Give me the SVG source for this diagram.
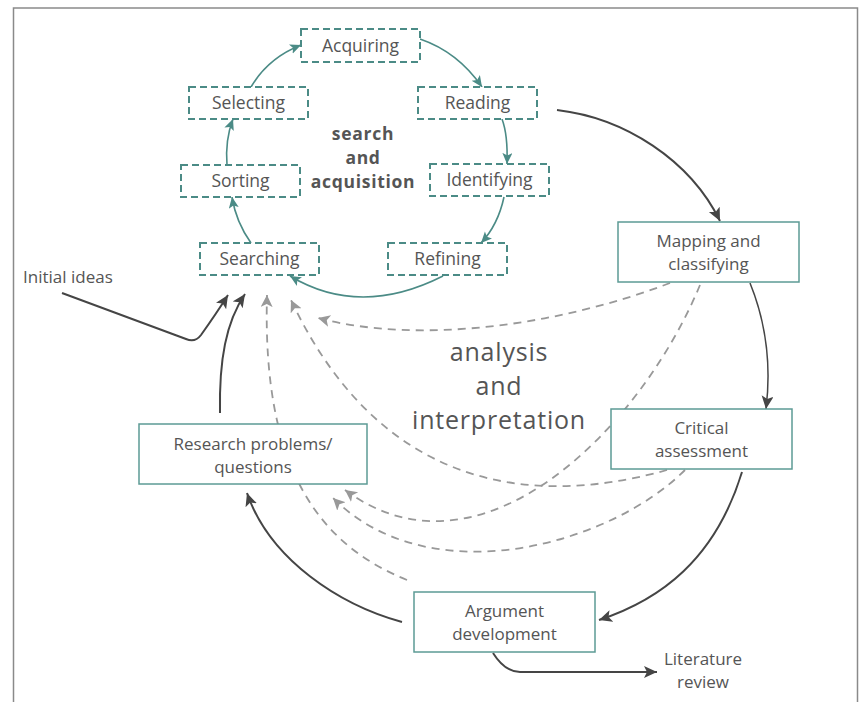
<svg xmlns="http://www.w3.org/2000/svg" width="859" height="702" viewBox="0 0 859 702">
<style>
  text { font-family: "Open Sans", "Noto Sans", "DejaVu Sans", sans-serif; fill: #555; }
  .dbox { fill: #fff; stroke: #4b8b86; stroke-width: 2; stroke-dasharray: 7 4; }
  .sbox { fill: #fff; stroke: #5c9b95; stroke-width: 1.5; }
  .dl { font-size: 17.5px; text-anchor: middle; }
  .sl { font-size: 17px; text-anchor: middle; }
  .big { font-size: 25px; text-anchor: middle; letter-spacing: 0.8px; }
  .bold { font-size: 17.5px; font-weight: bold; text-anchor: middle; letter-spacing: 0.7px; }
  .teal { fill: none; stroke: #4b8b86; stroke-width: 1.6; marker-end: url(#mt); }
  .dark { fill: none; stroke: #454545; stroke-width: 2; marker-end: url(#md); }
  .thin { fill: none; stroke: #454545; stroke-width: 1.5; marker-end: url(#md); }
  .dash { fill: none; stroke: #999; stroke-width: 1.8; stroke-dasharray: 8 6; marker-end: url(#mg); }
</style>
<defs>
  <marker id="mt" markerUnits="userSpaceOnUse" markerWidth="14" markerHeight="12" refX="11" refY="5" orient="auto">
    <path d="M0,0 L11,5 L0,10 L2.5,5 z" fill="#4b8b86"/>
  </marker>
  <marker id="md" markerUnits="userSpaceOnUse" markerWidth="16" markerHeight="14" refX="13" refY="6" orient="auto">
    <path d="M0,0 L13,6 L0,12 L3,6 z" fill="#454545"/>
  </marker>
  <marker id="mg" markerUnits="userSpaceOnUse" markerWidth="16" markerHeight="14" refX="12" refY="6" orient="auto">
    <path d="M0,0 L12,6 L0,12 L3,6 z" fill="#999"/>
  </marker>
</defs>
<rect x="13.5" y="8" width="844" height="720" fill="#fff" stroke="#8a8a8a" stroke-width="1.5"/>

<g id="connectors">
  <path class="teal" d="M251,87 Q268,58 301,45"/>
  <path class="teal" d="M420,39 Q458,52 482,87"/>
  <path class="teal" d="M502,119 Q508,135 507,164"/>
  <path class="teal" d="M504,197 Q498,225 481,243"/>
  <path class="teal" d="M443,276 Q360,318 290,276"/>
  <path class="teal" d="M251,243 Q236,222 232,197"/>
  <path class="teal" d="M227,165 Q225,140 233,119"/>

  <path class="dark" d="M557,110 C625,118 690,160 720,221"/>
  <path class="thin" d="M750,283 C765,320 772,360 766,409"/>
  <path class="dark" d="M742,472 C715,560 660,600 599,620"/>
  <path class="dark" d="M402,622 C340,605 270,560 247,493"/>
  <path class="dark" d="M220,413 C219,360 226,322 245,294"/>
  <path class="dark" d="M62,293 L186,339 Q195,343 201,335 Q216,314 228,295"/>
  <path class="dark" d="M493,653 Q505,672 520,672 L657,672"/>

  <path class="dash" d="M407,580 C320,545 262,470 267,295"/>
  <path class="dash" d="M667,470 C560,500 390,510 291,300"/>
  <path class="dash" d="M670,283 C560,325 420,345 318,318"/>
  <path class="dash" d="M700,285 C640,430 480,590 345,490"/>
  <path class="dash" d="M685,470 C610,545 430,595 333,498"/>
</g>

<g id="acquiring"><rect class="dbox" x="301" y="29" width="119" height="33"/><text class="dl" x="360.5" y="52">Acquiring</text></g>
<g id="reading"><rect class="dbox" x="418" y="87" width="119" height="32"/><text class="dl" x="477.5" y="109">Reading</text></g>
<g id="identifying"><rect class="dbox" x="430" y="164" width="119" height="32"/><text class="dl" x="489.5" y="186">Identifying</text></g>
<g id="refining"><rect class="dbox" x="388" y="243" width="119" height="32"/><text class="dl" x="447.5" y="265">Refining</text></g>
<g id="searching"><rect class="dbox" x="200" y="243" width="119" height="32"/><text class="dl" x="259.5" y="265">Searching</text></g>
<g id="sorting"><rect class="dbox" x="181" y="165" width="119" height="32"/><text class="dl" x="240.5" y="187">Sorting</text></g>
<g id="selecting"><rect class="dbox" x="189" y="87" width="119" height="32"/><text class="dl" x="248.5" y="109">Selecting</text></g>

<g id="search-label">
  <text class="bold" x="363" y="140">search</text>
  <text class="bold" x="363" y="164">and</text>
  <text class="bold" x="363" y="188">acquisition</text>
</g>

<g id="mapping"><rect class="sbox" x="618" y="222" width="181" height="60"/><text class="sl" x="708.5" y="247">Mapping and</text><text class="sl" x="708.5" y="270">classifying</text></g>
<g id="critical"><rect class="sbox" x="611" y="409" width="181" height="60"/><text class="sl" x="701.5" y="434">Critical</text><text class="sl" x="701.5" y="457">assessment</text></g>
<g id="argument"><rect class="sbox" x="414" y="592" width="181" height="60"/><text class="sl" x="504.5" y="617">Argument</text><text class="sl" x="504.5" y="640">development</text></g>
<g id="research"><rect class="sbox" x="139" y="424" width="228" height="60"/><text class="sl" x="253" y="450">Research problems/</text><text class="sl" x="253" y="473">questions</text></g>

<g id="initial-ideas"><text x="23" y="283" font-size="17">Initial ideas</text></g>
<g id="literature-review"><text x="703" y="665" font-size="17" text-anchor="middle">Literature</text><text x="703" y="688" font-size="17" text-anchor="middle">review</text></g>

<g id="analysis-label">
  <text class="big" x="499" y="361">analysis</text>
  <text class="big" x="499" y="395">and</text>
  <text class="big" x="499" y="429">interpretation</text>
</g>
</svg>
